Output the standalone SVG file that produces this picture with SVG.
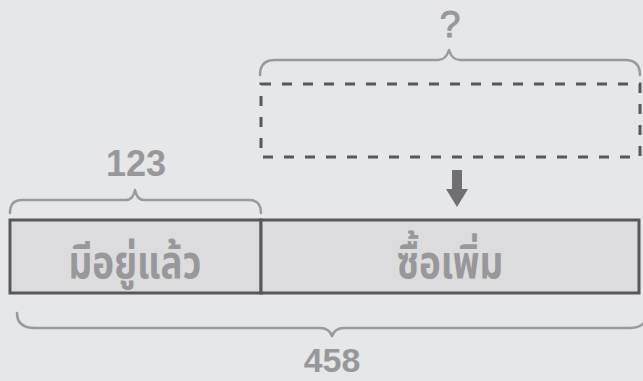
<svg xmlns="http://www.w3.org/2000/svg" width="643" height="381" viewBox="0 0 643 381">
<style>
.brace{fill:none;stroke:#9a9a9c;stroke-width:2.5;stroke-linecap:round;stroke-linejoin:round}
.num{font-family:"Liberation Sans",Arial,sans-serif;font-weight:bold;font-size:36px;fill:#98989a;text-anchor:middle}
.lbl{font-family:"Noto Sans Thai","Noto Sans","Liberation Sans",sans-serif;font-weight:bold;font-size:46px;fill:#98989a;text-anchor:middle}
.box{fill:#dcdcde;stroke:#58585a;stroke-width:3}
</style>
<rect width="643" height="381" fill="#e6e7e9"/>
<g id="have">
<rect class="box" x="10" y="220" width="251" height="73"/>
<text class="lbl" transform="translate(135,278) scale(0.8,1)">มีอยู่แล้ว</text>
</g>
<g id="buy">
<rect class="box" x="261" y="220" width="378" height="73"/>
<text class="lbl" transform="translate(450,278) scale(0.8,1)">ซื้อเพิ่ม</text>
</g>
<g id="unknown">
<rect x="261" y="84" width="379" height="73" fill="none" stroke="#58585a" stroke-width="3" stroke-dasharray="10 11"/>
</g>
<g id="brace-have">
<path class="brace" d="M10,213 Q10,200 22,200 L126,200 Q133,200 135,190 Q137,200 144,200 L249,200 Q261,200 261,213"/>
<text class="num" x="136" y="176">123</text>
</g>
<g id="brace-question">
<path class="brace" d="M260,75 Q260,60 275,60 L438,60 Q446,60 449,50 Q452,60 460,60 L625,60 Q640,60 640,75"/>
<text class="num" x="450" y="37" style="font-weight:normal;font-size:37px;stroke:#98989a;stroke-width:1">?</text>
</g>
<g id="brace-total">
<path class="brace" d="M17,313 Q17,328 35,328 L320,328 Q329,328 332,336 Q335,328 344,328 L629,328 Q647,328 647,313"/>
<text class="num" x="332" y="372" style="font-size:34px">458</text>
</g>
<g id="connectors">
<path d="M452,170 L462,170 L462,189 L468,189 L457,207 L446,189 L452,189 Z" fill="#707072"/>
</g>
</svg>
